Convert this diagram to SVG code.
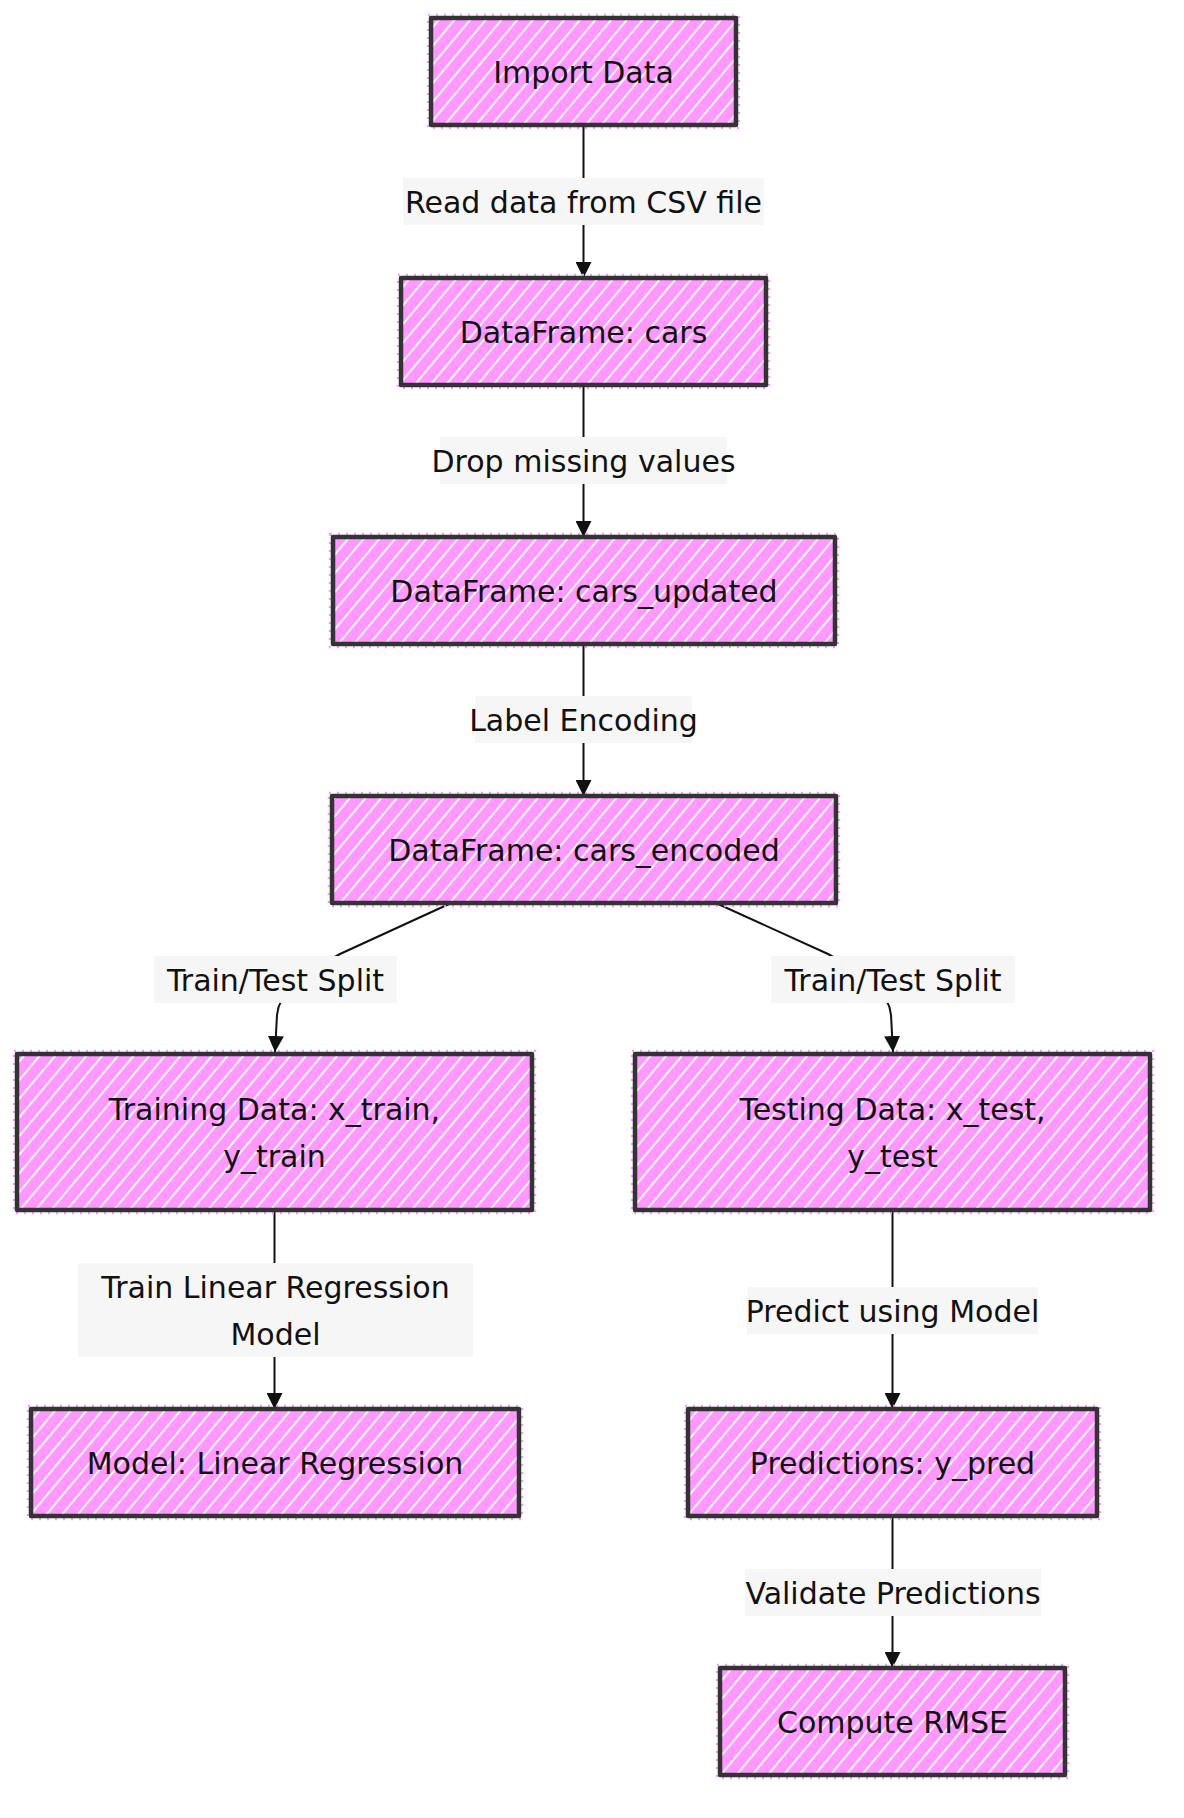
<svg xmlns="http://www.w3.org/2000/svg" width="1184" height="1818" viewBox="0 0 1184 1818">
  <defs>
    <pattern id="hatch" patternUnits="userSpaceOnUse" width="12" height="12" patternTransform="rotate(40)">
      <rect x="0" y="0" width="12" height="12" fill="#ff99ff"/>
      <line x1="1" y1="0" x2="1" y2="12" stroke="#ffffff" stroke-width="1.8"/>
    </pattern>
    <marker id="arrow" viewBox="0 0 10 10" refX="10" refY="5" markerWidth="16" markerHeight="16" markerUnits="userSpaceOnUse" orient="auto">
      <path d="M0,0 L10,5 L0,10 z" fill="#111111"/>
    </marker>
    <style>
      .box { fill: url(#hatch); stroke: #333333; stroke-width: 4.5; stroke-linejoin: round; }
      .halo { fill: none; stroke: #ff99ff; stroke-width: 2.5; stroke-dasharray: 2 6; }
      .ntext { font-family: "DejaVu Sans", sans-serif; font-size: 30px; fill: #111111; text-anchor: middle; }
      .edge { fill: none; stroke: #111111; stroke-width: 2; marker-end: url(#arrow); }
      .lbg { fill: #f6f6f6; }
      .ltext { font-family: "DejaVu Sans", sans-serif; font-size: 30px; fill: #111111; text-anchor: middle; }
    </style>
  </defs>
  <rect width="1184" height="1818" fill="#ffffff"/>

  <g id="connectors">
    <path class="edge" d="M583.5,125 L583.5,278"/>
    <path class="edge" d="M583.5,385 L583.5,537"/>
    <path class="edge" d="M583.5,644 L583.5,796"/>
    <path class="edge" d="M449,904 L340,954 C300,976 279,992 277,1015 L275,1052"/>
    <path class="edge" d="M718,904 L828,954 C868,976 889,992 891,1015 L893,1052"/>
    <path class="edge" d="M274.5,1210 L274.5,1409"/>
    <path class="edge" d="M892.5,1210 L892.5,1409"/>
    <path class="edge" d="M892.5,1516 L892.5,1668"/>
  </g>

  <g id="edge-labels">
    <g id="label-read">
      <rect class="lbg" x="403" y="178" width="361" height="47"/>
      <text class="ltext" x="583.5" y="212.5">Read data from CSV file</text>
    </g>
    <g id="label-drop">
      <rect class="lbg" x="440" y="437" width="287" height="47"/>
      <text class="ltext" x="583.5" y="471.5">Drop missing values</text>
    </g>
    <g id="label-encoding">
      <rect class="lbg" x="475" y="696" width="217" height="47"/>
      <text class="ltext" x="583.5" y="730.5">Label Encoding</text>
    </g>
    <g id="label-split-left">
      <rect class="lbg" x="154" y="956" width="243" height="47"/>
      <text class="ltext" x="275.5" y="990.5">Train/Test Split</text>
    </g>
    <g id="label-split-right">
      <rect class="lbg" x="771" y="956" width="244" height="47"/>
      <text class="ltext" x="893" y="990.5">Train/Test Split</text>
    </g>
    <g id="label-train">
      <rect class="lbg" x="78" y="1263" width="395" height="94"/>
      <text class="ltext" x="275.5" y="1298">Train Linear Regression</text>
      <text class="ltext" x="275.5" y="1345">Model</text>
    </g>
    <g id="label-predict">
      <rect class="lbg" x="747" y="1287" width="291" height="47"/>
      <text class="ltext" x="892.5" y="1321.5">Predict using Model</text>
    </g>
    <g id="label-validate">
      <rect class="lbg" x="745" y="1569" width="296" height="47"/>
      <text class="ltext" x="893" y="1603.5">Validate Predictions</text>
    </g>
  </g>

  <g id="node-import">
    <rect class="halo" x="428" y="15" width="311" height="113"/>
    <rect class="box" x="431" y="18" width="305" height="107"/>
    <text class="ntext" x="583.5" y="82.5">Import Data</text>
  </g>
  <g id="node-cars">
    <rect class="halo" x="398" y="275" width="371" height="113"/>
    <rect class="box" x="401" y="278" width="365" height="107"/>
    <text class="ntext" x="583.5" y="342.5">DataFrame: cars</text>
  </g>
  <g id="node-cars-updated">
    <rect class="halo" x="330" y="534" width="508" height="113"/>
    <rect class="box" x="333" y="537" width="502" height="107"/>
    <text class="ntext" x="584" y="601.5">DataFrame: cars_updated</text>
  </g>
  <g id="node-cars-encoded">
    <rect class="halo" x="329" y="793" width="510" height="113"/>
    <rect class="box" x="332" y="796" width="504" height="107"/>
    <text class="ntext" x="584" y="860.5">DataFrame: cars_encoded</text>
  </g>
  <g id="node-training">
    <rect class="halo" x="14" y="1051" width="521" height="162"/>
    <rect class="box" x="17" y="1054" width="515" height="156"/>
    <text class="ntext" x="274.5" y="1120">Training Data: x_train,</text>
    <text class="ntext" x="274.5" y="1167">y_train</text>
  </g>
  <g id="node-testing">
    <rect class="halo" x="632" y="1051" width="521" height="162"/>
    <rect class="box" x="635" y="1054" width="515" height="156"/>
    <text class="ntext" x="892.5" y="1120">Testing Data: x_test,</text>
    <text class="ntext" x="892.5" y="1167">y_test</text>
  </g>
  <g id="node-model">
    <rect class="halo" x="28" y="1406" width="494" height="113"/>
    <rect class="box" x="31" y="1409" width="488" height="107"/>
    <text class="ntext" x="275" y="1473.5">Model: Linear Regression</text>
  </g>
  <g id="node-predictions">
    <rect class="halo" x="685" y="1406" width="415" height="113"/>
    <rect class="box" x="688" y="1409" width="409" height="107"/>
    <text class="ntext" x="892.5" y="1473.5">Predictions: y_pred</text>
  </g>
  <g id="node-rmse">
    <rect class="halo" x="717" y="1665" width="351" height="113"/>
    <rect class="box" x="720" y="1668" width="345" height="107"/>
    <text class="ntext" x="892.5" y="1732.5">Compute RMSE</text>
  </g>
</svg>
